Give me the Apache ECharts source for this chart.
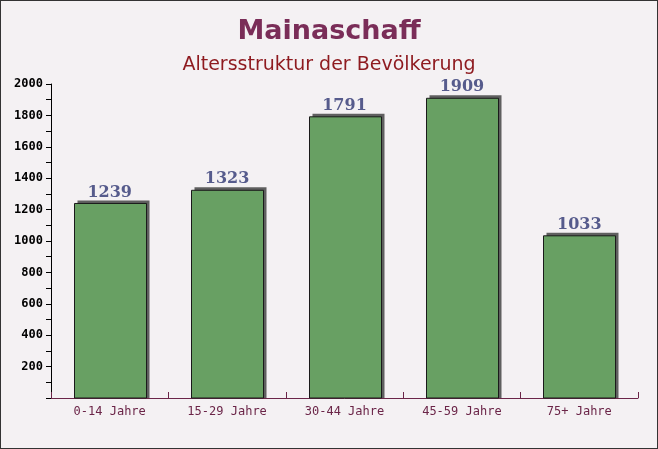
<!DOCTYPE html>
<html>
<head>
<meta charset="utf-8">
<script src="https://cdn.jsdelivr.net/npm/echarts@6/dist/echarts.min.js"></script>
<style>
    html, body { margin: 0; padding: 0; }
    #chart {
        width: 658px;
        height: 449px;
        box-sizing: border-box;
        border: 1px solid #333;
        background: #f4f1f3;
    }
</style>
</head>
<body>
<div id="chart"></div>
<script>
const categories = ['0-14 Jahre', '15-29 Jahre', '30-44 Jahre', '45-59 Jahre', '75+ Jahre'];
const population = [1239, 1323, 1791, 1909, 1033];
const yTicks = [200, 400, 600, 800, 1000, 1200, 1400, 1600, 1800, 2000];

const chart = echarts.init(document.getElementById('chart'));

// bar with a flat grey "depth" block behind it (up and to the right)
function renderBar(params, api) {
    const top = api.coord([api.value(0), api.value(1)]);
    const base = api.coord([api.value(0), 0]);
    const bw = api.size([1, 0])[0] * 0.61;
    const l = Math.round(top[0] - bw / 2) + 0.5;
    const w = Math.round(bw);
    const d = 3;
    return {
        type: 'group',
        children: [
            {
                type: 'rect',
                shape: { x: l + d, y: top[1] - d, width: w, height: base[1] - top[1] + d },
                style: { fill: '#5f5f5f' }
            },
            {
                type: 'rect',
                shape: { x: l, y: top[1], width: w, height: base[1] - top[1] },
                style: { fill: '#68a063', stroke: '#1a1a1a', lineWidth: 1 }
            },
            {
                type: 'text',
                style: {
                    text: String(api.value(1)),
                    x: top[0],
                    y: top[1] - 3,
                    align: 'center',
                    verticalAlign: 'bottom',
                    fontFamily: 'DejaVu Serif',
                    fontSize: 16,
                    fontWeight: 'bold',
                    fill: '#565b8c'
                }
            }
        ]
    };
}

chart.setOption({
    animation: false,
    title: [
        {
            text: 'Mainaschaff',
            left: 'center',
            top: 12,
            textStyle: { fontFamily: 'DejaVu Sans', fontSize: 27, fontWeight: 'bold', color: '#7a2d58' }
        },
        {
            text: 'Altersstruktur der Bevölkerung',
            left: 'center',
            top: 50,
            textStyle: { fontFamily: 'DejaVu Sans', fontSize: 19, fontWeight: 'normal', color: '#8e1a1f' }
        }
    ],
    grid: { left: 50, right: 19, top: 83, bottom: 50 },
    xAxis: {
        type: 'category',
        data: categories,
        axisLine: { lineStyle: { color: '#6b2548', width: 1 } },
        axisTick: { show: true, inside: true, length: 6, lineStyle: { color: '#6b2548' } },
        axisLabel: {
            margin: 8,
            fontFamily: 'DejaVu Sans Mono',
            fontSize: 12,
            color: '#6b2548'
        }
    },
    yAxis: {
        type: 'value',
        min: 0,
        max: 2000,
        interval: 100,
        splitLine: { show: false },
        axisLine: { show: true, lineStyle: { color: '#000' } },
        axisTick: { show: true, length: 5, lineStyle: { color: '#000' } },
        axisLabel: {
            margin: 8,
            fontFamily: 'DejaVu Sans Mono',
            fontSize: 12,
            fontWeight: 'bold',
            color: '#000',
            formatter: v => (yTicks.includes(v) ? String(v) : '')
        }
    },
    series: [
        {
            type: 'custom',
            renderItem: renderBar,
            data: population.map((v, i) => [i, v]),
            encode: { x: 0, y: 1 },
            z: 1
        }
    ]
});
</script>
</body>
</html>
